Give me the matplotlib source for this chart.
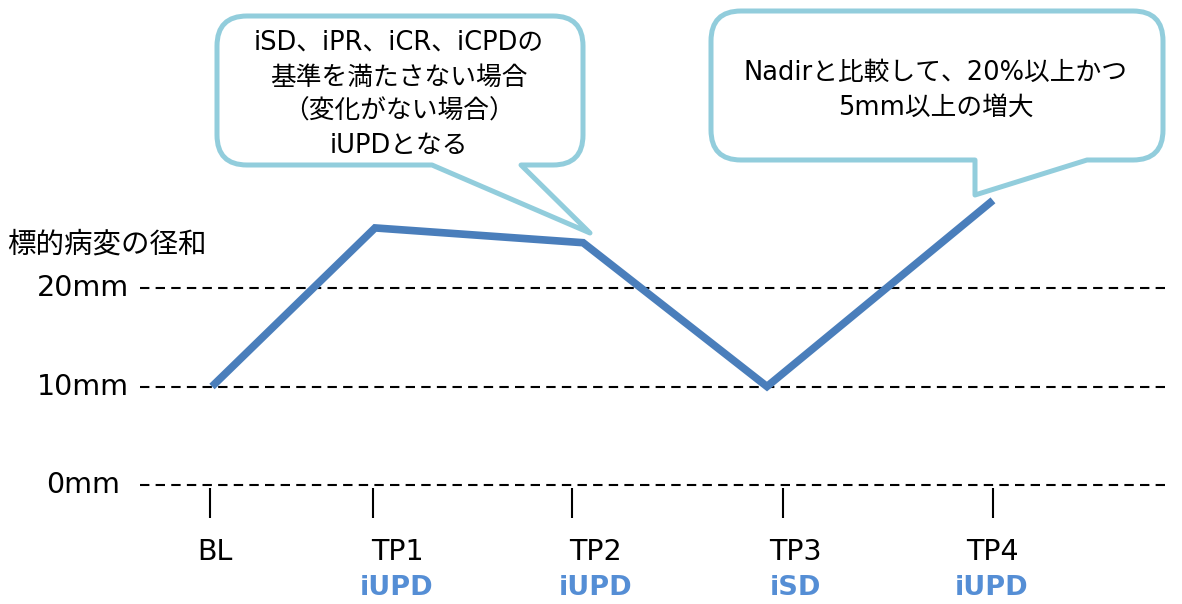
import matplotlib
matplotlib.use("Agg")
import matplotlib.pyplot as plt
from matplotlib.path import Path
from matplotlib.patches import PathPatch

plt.rcParams['font.family'] = ['DejaVu Sans', 'Noto Sans CJK JP']

# data
visits = ['BL', 'TP1', 'TP2', 'TP3', 'TP4']
status = ['', 'iUPD', 'iUPD', 'iSD', 'iUPD']
visit_x = [0, 0.836, 1.903, 2.846, 4.005]
diameter_mm = [10, 26.1, 24.6, 10, 28.9]
tick_x = [-0.01, 0.826, 1.846, 2.928, 4.005]
label_x = [0.015, 0.949, 1.969, 2.99, 4.0]
grid_mm = [0, 10, 20]
grid_labels = ['0mm', '10mm', '20mm']
y_title = '標的病変の径和'
note_left = ['iSD、iPR、iCR、iCPDの', '基準を満たさない場合', '（変化がない場合）', 'iUPDとなる']
note_right = ['Nadirと比較して、20%以上かつ', '5mm以上の増大']

LINE = '#4A7EBB'
BUBBLE = '#92CDDC'
STATUS = '#558ED5'

fig = plt.figure(figsize=(11.82, 6.04), dpi=100)
ax = fig.add_axes([0, 0, 1, 1])
ax.set_xlim(-1.0872, 4.9744)
ax.set_ylim(-12.08, 49.24)
ax.axis('off')

# dashed reference lines + their labels
ax.hlines(grid_mm, -0.369, 4.913, colors='black', linewidth=1.5, linestyles=(0, (4.5, 3)), zorder=1)
for v, lab in zip(grid_mm, grid_labels):
    ax.text(-0.66, v, lab, fontsize=20.5, ha='center', va='center')
ax.text(-1.05, 24.4, y_title, fontsize=20.5, ha='left', va='center')

# visit ticks and labels
ax.vlines(tick_x, -3.3, -0.3, colors='black', linewidth=1.5)
for x, v, s in zip(label_x, visits, status):
    ax.text(x, -6.8, v, fontsize=20.5, ha='center', va='center')
    if s:
        ax.text(x, -10.5, s, fontsize=19.5, ha='center', va='center',
                color=STATUS, fontweight='bold')

ax.plot(visit_x, diameter_mm, color=LINE, linewidth=5.5,
        solid_joinstyle='miter', solid_capstyle='butt', zorder=3)

# callouts drawn in pixel space
ov = fig.add_axes([0, 0, 1, 1], zorder=4)
ov.set_xlim(0, 1182)
ov.set_ylim(604, 0)
ov.axis('off')
ov.patch.set_alpha(0)


def bubble(x0, y0, x1, y1, r, tail_l, tail_r, tip):
    verts = [(x0 + r, y0), (x1 - r, y0), (x1, y0), (x1, y0 + r),
             (x1, y1 - r), (x1, y1), (x1 - r, y1),
             (tail_r, y1), tip, (tail_l, y1),
             (x0 + r, y1), (x0, y1), (x0, y1 - r),
             (x0, y0 + r), (x0, y0), (x0 + r, y0), (x0 + r, y0)]
    codes = [Path.MOVETO, Path.LINETO, Path.CURVE3, Path.CURVE3,
             Path.LINETO, Path.CURVE3, Path.CURVE3,
             Path.LINETO, Path.LINETO, Path.LINETO,
             Path.LINETO, Path.CURVE3, Path.CURVE3,
             Path.LINETO, Path.CURVE3, Path.CURVE3, Path.CLOSEPOLY]
    ov.add_patch(PathPatch(Path(verts, codes), facecolor='white',
                           edgecolor=BUBBLE, linewidth=3.6, joinstyle='round'))


def note(cx, top, lines, step=34.5):
    for i, line in enumerate(lines):
        fam = ['Noto Sans CJK JP'] if '（' in line else ['DejaVu Sans', 'Noto Sans CJK JP']
        ov.text(cx, top + i * step, line, fontsize=18.5, ha='center', va='center', family=fam)


bubble(217, 16, 583, 165, 30, 432, 521, (590, 233))
bubble(711, 11, 1163, 160, 30, 975, 1087, (975, 195))

note(399, 43, note_left)
note(936, 73, note_right, step=35)

fig.savefig('out.png', dpi=100)
